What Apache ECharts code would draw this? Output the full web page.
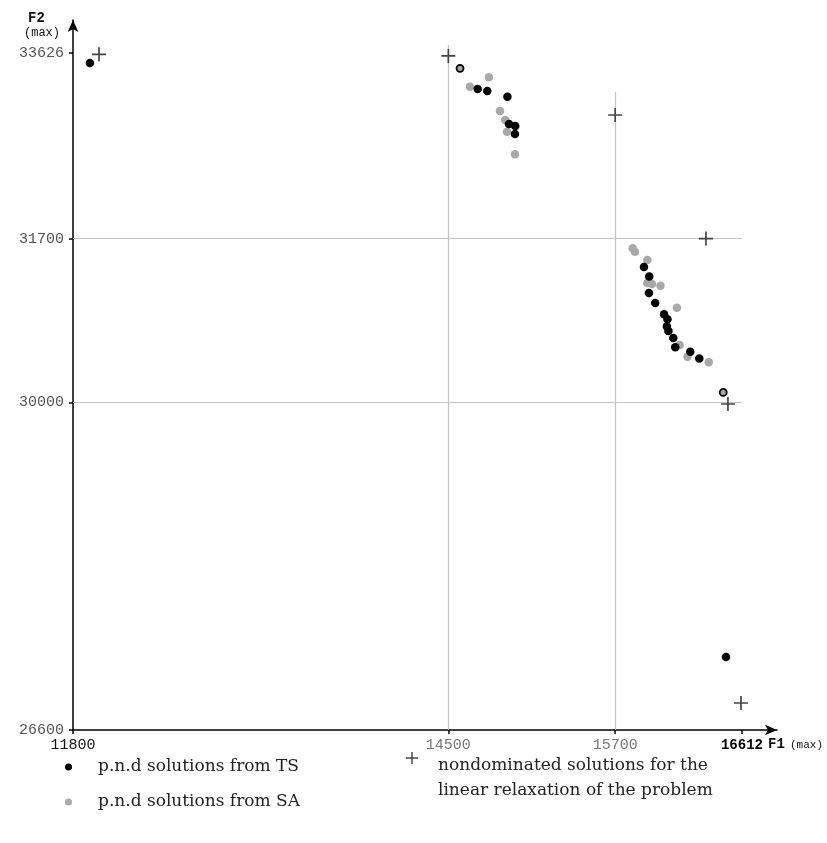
<!DOCTYPE html>
<html>
<head>
<meta charset="utf-8">
<script src="https://cdn.jsdelivr.net/npm/echarts@6/dist/echarts.min.js"></script>
<style>html,body{margin:0;padding:0;background:#fff;}#c{width:827px;height:843px;}</style>
</head>
<body>
<div id="c"></div>
<script>
// ---- data ----
const xTicks = [11800, 14500, 15700, 16612];
const yTicks = [26600, 30000, 31700, 33626];
const gridX = [14500, 15700];
const gridXTop = [33709, 33221];
const gridY = [30000, 31700];

const tsPoints = [
  [11922, 33522], [14711, 33252], [14780, 33232], [14925, 33172], [14936, 32889],
  [14981, 32868], [14979, 32785], [15907, 31405], [15945, 31306], [15943, 31135],
  [15988, 31031], [16052, 30915], [16076, 30863], [16072, 30788], [16083, 30741],
  [16118, 30668], [16132, 30572], [16240, 30526], [16305, 30455], [16497, 27358]
];
const saPoints = [
  [14792, 33374], [14655, 33276], [14871, 33024], [14909, 32931], [14922, 32809],
  [14979, 32575], [15826, 31599], [15842, 31564], [15931, 31478], [15931, 31239],
  [15965, 31229], [16026, 31211], [16144, 30983], [16164, 30596], [16220, 30474],
  [16373, 30416]
];
const bothPoints = [[14584, 33467], [16477, 30103]];
const lrPoints = [
  [11987, 33612], [14500, 33595], [15700, 32982], [16353, 31700], [16511, 29983], [16605, 26880]
];

const legendTS = 'p.n.d solutions from TS';
const legendSA = 'p.n.d solutions from SA';
const legendLR = 'nondominated solutions for the\nlinear relaxation of the problem';

// ---- chart ----
const FONT = 'DejaVu Serif';
const AXFONT = 'Liberation Mono';
const plusPath = 'path://M0,4.4H10V5.6H0Z M4.4,0H5.6V10H4.4Z';
const plusLegendPath = 'path://M0,4.4H10V5.6H0Z M4.4,0H5.6V10H4.4Z M4.99,44.15H5.01V44.17H4.99Z';

const gridLinesData = [];
gridX.forEach((v, i) => gridLinesData.push([{coord: [v, yTicks[0]]}, {coord: [v, gridXTop[i]]}]));
gridY.forEach(v => gridLinesData.push([{coord: [xTicks[0], v]}, {coord: [xTicks[xTicks.length - 1], v]}]));

const chart = echarts.init(document.getElementById('c'), null, {renderer: 'canvas'});
chart.setOption({
  backgroundColor: '#fff',
  animation: false,
  grid: {left: 73, right: 50, top: 20, bottom: 113, containLabel: false},
  xAxis: {
    type: 'value', min: 11800, max: 16864,
    splitLine: {show: false},
    axisLine: {show: true, lineStyle: {color: '#000', width: 1.5}, symbol: ['none', 'arrow'], symbolSize: [8, 12]},
    axisTick: {show: true, customValues: xTicks, length: 4, lineStyle: {color: '#000', width: 1.5}},
    axisLabel: {
      customValues: xTicks, margin: 8,
      fontFamily: AXFONT, fontSize: 15,
      formatter: v => v === 16612 ? '{b|' + v + '}' : (v === 11800 ? '{k|' + v + '}' : '{g|' + v + '}'),
      rich: {
        b: {color: '#000', fontFamily: AXFONT, fontSize: 14, fontWeight: 'bold'},
        k: {color: '#111', fontFamily: AXFONT, fontSize: 15},
        g: {color: '#777', fontFamily: AXFONT, fontSize: 15}
      }
    }
  },
  yAxis: {
    type: 'value', min: 26600, max: 33968,
    splitLine: {show: false},
    axisLine: {show: true, lineStyle: {color: '#000', width: 1.5}, symbol: ['none', 'arrow'], symbolSize: [8, 12]},
    axisTick: {show: true, customValues: yTicks, length: 4, lineStyle: {color: '#000', width: 1.5}},
    axisLabel: {
      customValues: yTicks, margin: 9,
      formatter: v => String(v),
      color: '#555', fontFamily: AXFONT, fontSize: 15
    }
  },
  legend: [
    {
      data: [{name: legendTS, icon: 'circle'}, {name: legendSA, icon: 'circle'}],
      orient: 'vertical', left: 65, top: 757, itemGap: 15, padding: 0,
      itemWidth: 7, itemHeight: 7,
      textStyle: {fontFamily: FONT, fontSize: 17, color: '#222', lineHeight: 20, padding: [0, 0, 0, 21]},
      selectedMode: false
    },
    {
      data: [{name: legendLR, icon: plusLegendPath}], orient: 'vertical', left: 406, top: 752, padding: 0,
      itemWidth: 12, itemHeight: 53,
      textStyle: {fontFamily: FONT, fontSize: 17, color: '#222', lineHeight: 25, padding: [0, 0, 0, 15]},
      selectedMode: false
    }
  ],
  graphic: [
    {type: 'text', left: 28, top: 11, style: {text: 'F2', font: 'bold 14px ' + AXFONT, fill: '#111'}},
    {type: 'text', left: 24, top: 27, style: {text: '(max)', font: '12px ' + AXFONT, fill: '#111'}},
    {type: 'text', left: 768, top: 737, style: {text: 'F1', font: 'bold 14px ' + AXFONT, fill: '#111'}},
    {type: 'text', left: 790, top: 740, style: {text: '(max)', font: '11px ' + AXFONT, fill: '#111'}}
  ],
  series: [
    {
      name: 'grid', type: 'line', data: [], silent: true,
      markLine: {
        silent: true, symbol: 'none', label: {show: false},
        lineStyle: {color: '#c4c4c4', width: 1.2, type: 'solid'},
        emphasis: {disabled: true},
        data: gridLinesData
      }
    },
    {
      name: legendSA, type: 'scatter', data: saPoints, symbol: 'circle', symbolSize: 8.5,
      itemStyle: {color: '#a8a8a8', opacity: 1}, z: 3
    },
    {
      name: legendTS, type: 'scatter', data: tsPoints, symbol: 'circle', symbolSize: 8.5,
      itemStyle: {color: '#000', opacity: 1}, z: 4
    },
    {
      name: 'both', type: 'scatter', data: bothPoints, symbol: 'circle', symbolSize: 7,
      itemStyle: {color: '#a8a8a8', borderColor: '#000', borderWidth: 1.8, opacity: 1}, z: 5
    },
    {
      name: legendLR, type: 'scatter', data: lrPoints, symbol: plusPath, symbolSize: 14,
      itemStyle: {color: '#444', opacity: 1}, z: 6
    }
  ]
});
</script>
</body>
</html>
